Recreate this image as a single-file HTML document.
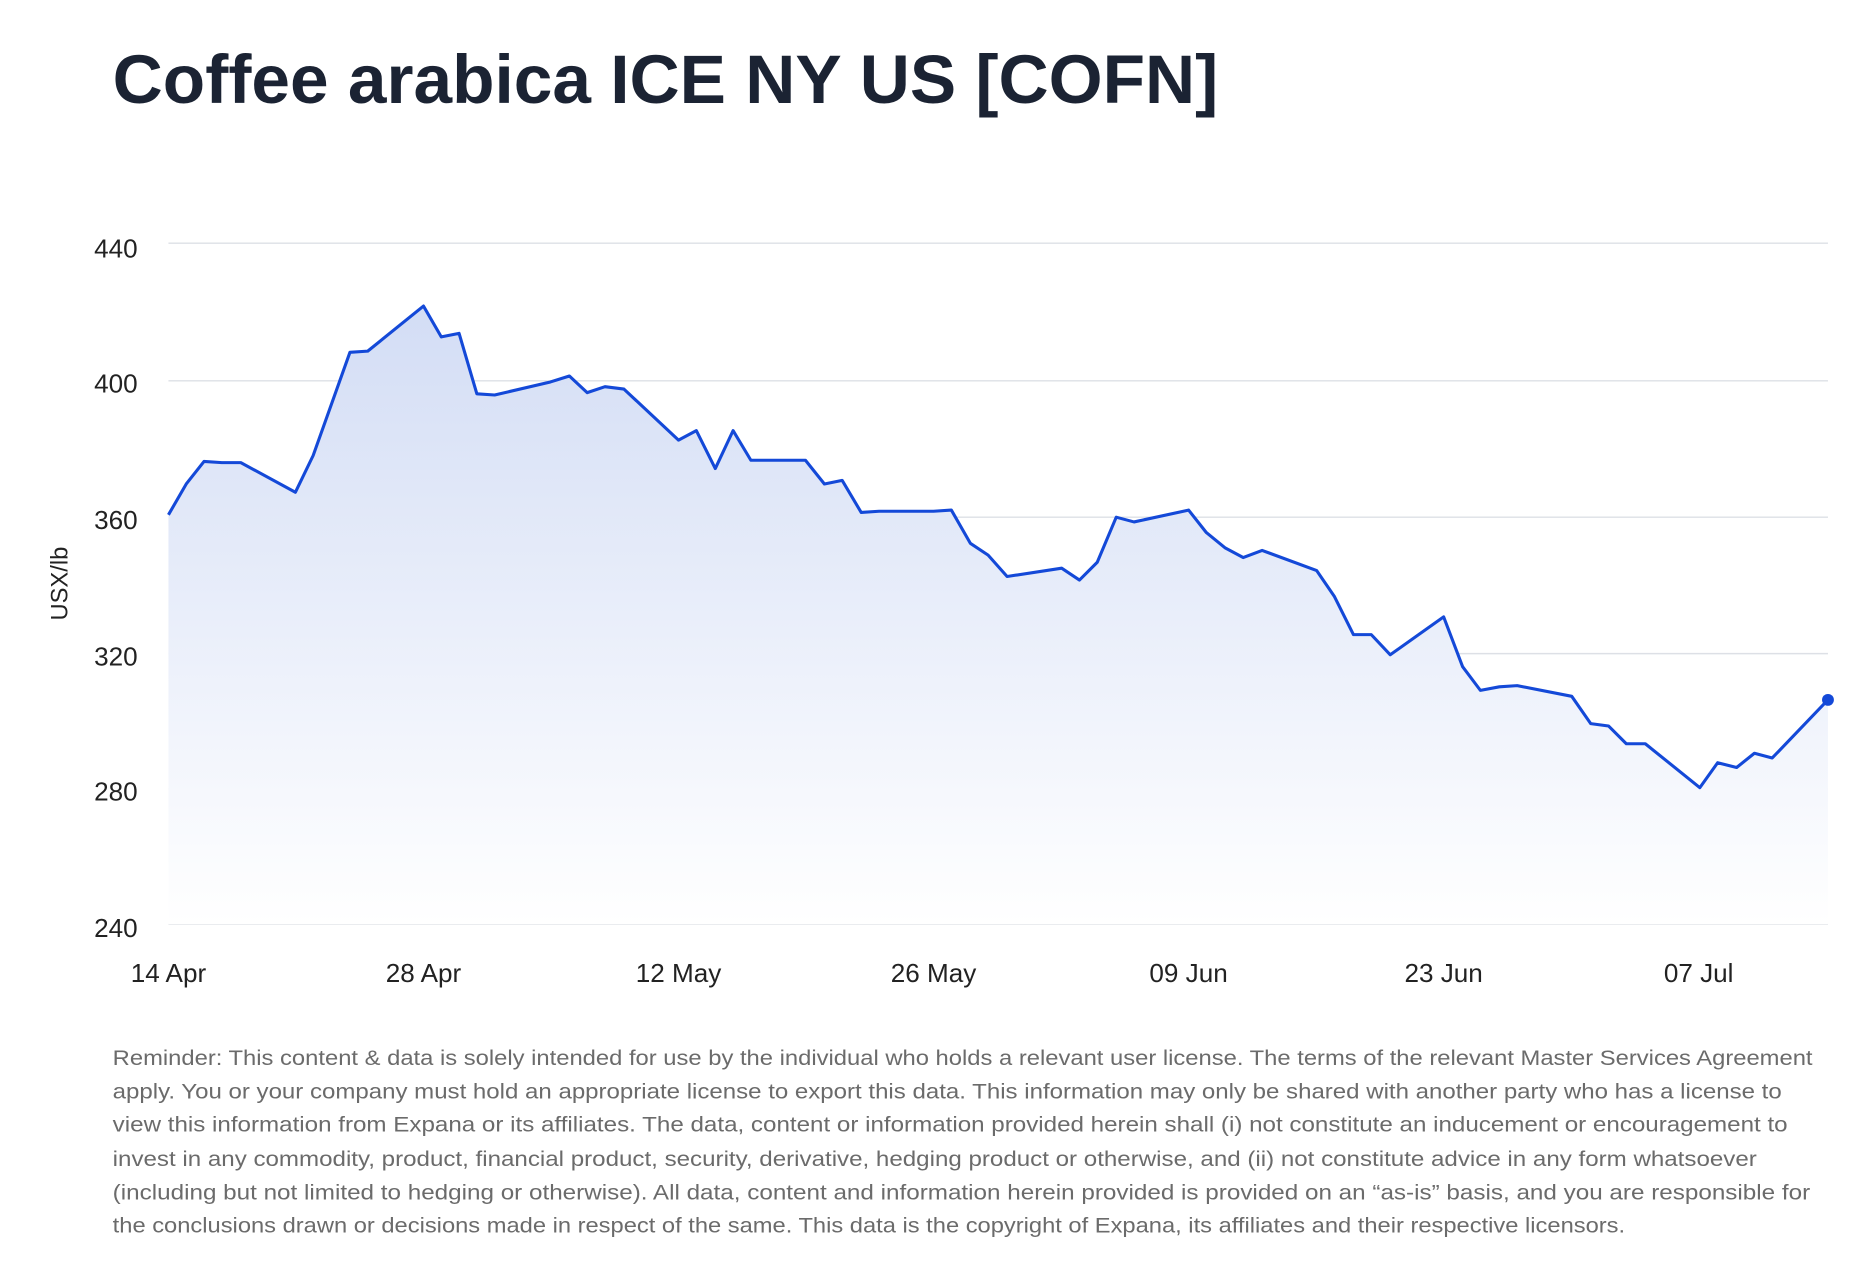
<!DOCTYPE html>
<html><head><meta charset="utf-8"><style>
html,body{margin:0;padding:0;background:#fff;width:1860px;height:1274px;overflow:hidden}
svg{display:block}
</style></head><body>
<svg width="1860" height="1274" viewBox="0 0 1568 1074" preserveAspectRatio="xMinYMin meet" xmlns="http://www.w3.org/2000/svg">
<defs><linearGradient id="g" gradientUnits="userSpaceOnUse" x1="0" y1="258" x2="0" y2="779">
<stop offset="0" stop-color="#d3ddf5"/><stop offset="1" stop-color="#ffffff"/></linearGradient></defs>
<text x="95" y="87" font-family="Liberation Sans, sans-serif" font-weight="bold" font-size="58" fill="#1b2333" textLength="932" lengthAdjust="spacingAndGlyphs">Coffee arabica ICE NY US [COFN]</text>
<g stroke="#dde0e6" stroke-width="1.2">
<line x1="142" x2="1541" y1="205" y2="205"/><line x1="142" x2="1541" y1="321" y2="321"/><line x1="142" x2="1541" y1="436" y2="436"/><line x1="142" x2="1541" y1="551" y2="551"/><line x1="142" x2="1541" y1="665" y2="665"/><line x1="142" x2="1541" y1="779" y2="779"/>
</g>
<g font-family="Liberation Sans, sans-serif" font-size="22" fill="#222" text-anchor="end">
<text x="116" y="217">440</text><text x="116" y="331">400</text><text x="116" y="446">360</text><text x="116" y="561">320</text><text x="116" y="675">280</text><text x="116" y="790">240</text>
</g>
<text transform="translate(57,492) rotate(-90)" font-family="Liberation Sans, sans-serif" font-size="20" fill="#222" text-anchor="middle">USX/lb</text>
<g font-family="Liberation Sans, sans-serif" font-size="22" fill="#222" text-anchor="middle">
<text x="142" y="828">14 Apr</text><text x="357" y="828">28 Apr</text><text x="572" y="828">12 May</text><text x="787" y="828">26 May</text><text x="1002" y="828">09 Jun</text><text x="1217" y="828">23 Jun</text><text x="1432" y="828">07 Jul</text>
</g>
<path fill="url(#g)" d="M142,434 L157,408 172,389 187,390 203,390 249,415 264,384 295,297 310,296 357,258 372,284 387,281 402,332 417,333 464,322 480,317 495,331 510,326 526,328 572,371 587,363 603,395 618,363 633,388 679,388 695,408 710,405 726,432 741,431 787,431 802,430 818,458 833,468 849,486 895,479 910,489 925,474 941,436 956,440 1002,430 1017,449 1033,462 1048,470 1064,464 1110,481 1125,503 1141,535 1156,535 1172,552 1217,520 1233,562 1248,582 1264,579 1279,578 1325,587 1341,610 1356,612 1371,627 1387,627 1433,664 1448,643 1464,647 1479,635 1494,639 1541,590 L1541,779 L142,779 Z"/>
<polyline fill="none" stroke="#1449d8" stroke-width="2.6" stroke-linejoin="round" points="142,434 157,408 172,389 187,390 203,390 249,415 264,384 295,297 310,296 357,258 372,284 387,281 402,332 417,333 464,322 480,317 495,331 510,326 526,328 572,371 587,363 603,395 618,363 633,388 679,388 695,408 710,405 726,432 741,431 787,431 802,430 818,458 833,468 849,486 895,479 910,489 925,474 941,436 956,440 1002,430 1017,449 1033,462 1048,470 1064,464 1110,481 1125,503 1141,535 1156,535 1172,552 1217,520 1233,562 1248,582 1264,579 1279,578 1325,587 1341,610 1356,612 1371,627 1387,627 1433,664 1448,643 1464,647 1479,635 1494,639 1541,590"/>
<circle cx="1541" cy="590" r="5" fill="#1449d8"/>
<g font-family="Liberation Sans, sans-serif" font-size="18" fill="#6b6b6b">
<text x="95" y="898" textLength="1433" lengthAdjust="spacingAndGlyphs">Reminder: This content &amp; data is solely intended for use by the individual who holds a relevant user license. The terms of the relevant Master Services Agreement</text>
<text x="95" y="926" textLength="1407" lengthAdjust="spacingAndGlyphs">apply. You or your company must hold an appropriate license to export this data. This information may only be shared with another party who has a license to</text>
<text x="95" y="954" textLength="1412" lengthAdjust="spacingAndGlyphs">view this information from Expana or its affiliates. The data, content or information provided herein shall (i) not constitute an inducement or encouragement to</text>
<text x="95" y="983" textLength="1386" lengthAdjust="spacingAndGlyphs">invest in any commodity, product, financial product, security, derivative, hedging product or otherwise, and (ii) not constitute advice in any form whatsoever</text>
<text x="95" y="1011" textLength="1431" lengthAdjust="spacingAndGlyphs">(including but not limited to hedging or otherwise). All data, content and information herein provided is provided on an “as-is” basis, and you are responsible for</text>
<text x="95" y="1039" textLength="1275" lengthAdjust="spacingAndGlyphs">the conclusions drawn or decisions made in respect of the same. This data is the copyright of Expana, its affiliates and their respective licensors.</text>
</g>
</svg>
</body></html>
